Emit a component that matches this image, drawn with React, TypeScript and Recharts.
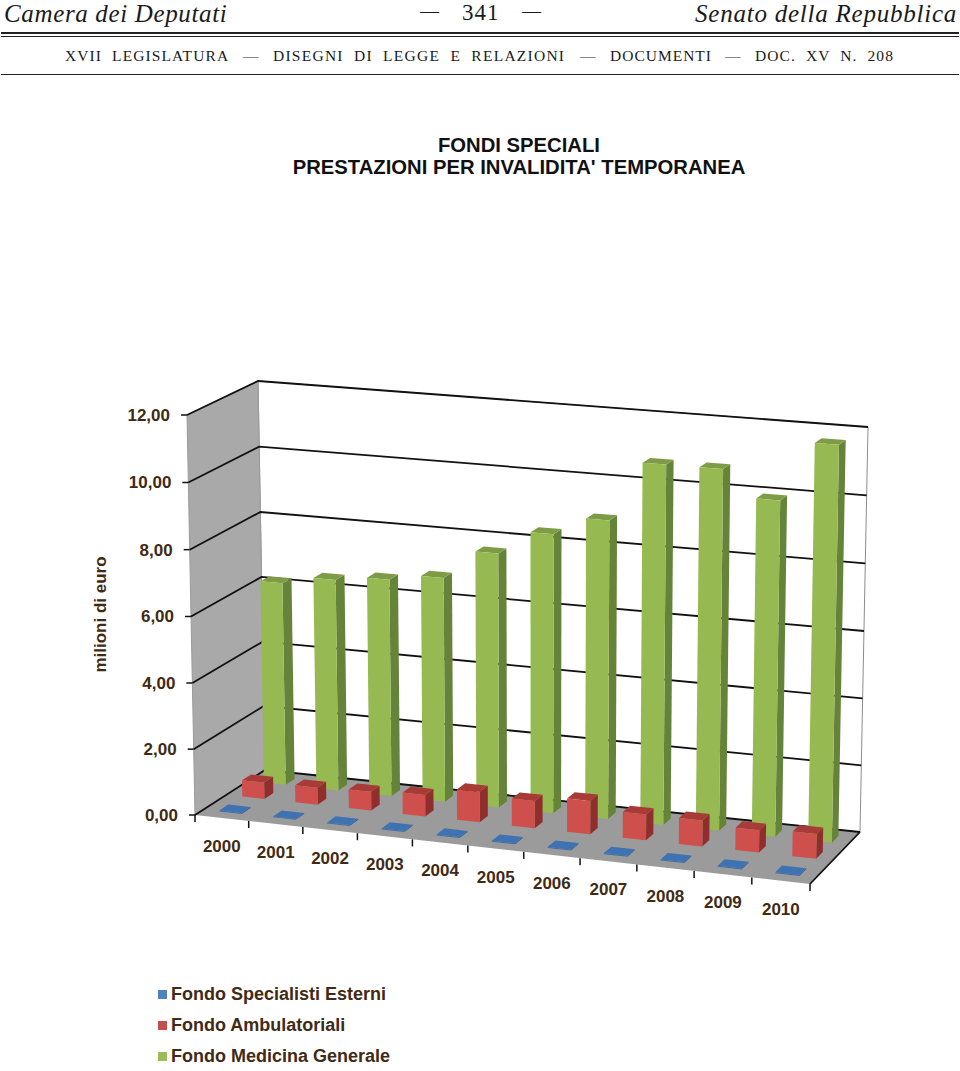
import React from "react";
import { BarChart, Bar, XAxis, YAxis, CartesianGrid, Legend } from "recharts";

const years = ["2000", "2001", "2002", "2003", "2004", "2005", "2006", "2007", "2008", "2009", "2010"];
const specialisti = [0.03, 0.03, 0.03, 0.03, 0.03, 0.03, 0.03, 0.03, 0.03, 0.03, 0.03];
const ambulatoriali = [0.5, 0.52, 0.57, 0.65, 0.92, 0.82, 1.0, 0.77, 0.77, 0.66, 0.73];
const medicina = [6.2, 6.45, 6.6, 6.8, 7.68, 8.4, 8.95, 10.73, 10.73, 9.95, 11.7];
const yTicks = [0, 2, 4, 6, 8, 10, 12];
const legendOrder = ["Fondo Specialisti Esterni", "Fondo Ambulatoriali", "Fondo Medicina Generale"];

const data = years.map((year, i) => ({
  year,
  specialisti: specialisti[i],
  ambulatoriali: ambulatoriali[i],
  medicina: medicina[i],
}));

// flat plot rectangle that recharts scales into
const PL = 200;
const PR = 860;
const PT = 400;
const PB = 800;

// screen corners of the 3d box: front/back, left/right, floor/top
const FL0 = [195, 815];
const FL1 = [187, 415];
const BL0 = [265, 770];
const BL1 = [258, 381];
const FR0 = [810, 884];
const FR1 = [817, 463];
const BR0 = [860, 832];
const BR1 = [868, 427];

const mix = (a: number[], b: number[], t: number) => [a[0] + (b[0] - a[0]) * t, a[1] + (b[1] - a[1]) * t];

function project(px: number, py: number, d: number) {
  const t = (px - PL) / (PR - PL);
  const s = t / (1.045 - 0.045 * t);
  const v = (PB - py) / (PB - PT);
  const h = v / (1.015 - 0.015 * v);
  const floor = mix(mix(FL0, FR0, s), mix(BL0, BR0, s), d);
  const top = mix(mix(FL1, FR1, s), mix(BL1, BR1, s), d);
  return mix(floor, top, h);
}

const pts = (list: number[][]) => list.map((p) => `${p[0].toFixed(1)},${p[1].toFixed(1)}`).join(" ");

function makeBarShape(d0: number, d1: number, front: string, side: string, top: string) {
  return function BarShape(props: any) {
    const { x, y, width, height } = props;
    const x1 = x + width;
    const y0 = y + height;
    return (
      <g>
        <polygon
          fill={side}
          points={pts([project(x1, y0, d0), project(x1, y0, d1), project(x1, y, d1), project(x1, y, d0)])}
        />
        <polygon
          fill={top}
          points={pts([project(x, y, d0), project(x1, y, d0), project(x1, y, d1), project(x, y, d1)])}
        />
        <polygon
          fill={front}
          points={pts([project(x, y0, d0), project(x1, y0, d0), project(x1, y, d0), project(x, y, d0)])}
        />
      </g>
    );
  };
}

function WallLine(props: any) {
  const { y1, index } = props;
  const frontLeft = project(PL, y1, 0);
  const backLeft = project(PL, y1, 1);
  const backRight = project(PR, y1, 1);
  return (
    <g>
      {index === 0 && (
        <g>
          <polygon fill="#ffffff" stroke="#8c8c8c" points={pts([BL0, BR0, BR1, BL1])} />
          <polygon fill="#a9a9a9" stroke="#9a9a9a" points={pts([FL0, BL0, BL1, FL1])} />
          <polygon fill="#9b9b9b" points={pts([FL0, FR0, BR0, BL0])} />
          <polyline fill="none" stroke="#111111" strokeWidth={1.8} points={pts([FR0, BR0])} />
        </g>
      )}
      <polyline fill="none" stroke="#111111" strokeWidth={1.8} points={pts([frontLeft, backLeft, backRight])} />
    </g>
  );
}

function YTick(props: any) {
  const { y, payload } = props;
  const p = project(PL, y, 0);
  return (
    <g>
      <line x1={p[0] - 6} y1={p[1]} x2={p[0]} y2={p[1]} stroke="#111111" strokeWidth={1.5} />
      <text
        x={p[0] - 17}
        y={p[1] + 6}
        textAnchor="end"
        fontFamily="Liberation Sans"
        fontWeight="bold"
        fontSize={17}
        fill="#3f2a14"
      >
        {payload.value.toFixed(2).replace(".", ",")}
      </text>
    </g>
  );
}

function XTick(props: any) {
  const { x, payload, index } = props;
  const band = (PR - PL) / years.length;
  const c = project(x, PB, 0);
  const a = project(x - band / 2, PB, 0);
  const b = project(x + band / 2, PB, 0);
  return (
    <g>
      <line x1={a[0]} y1={a[1]} x2={a[0]} y2={a[1] + 7} stroke="#111111" strokeWidth={1.5} />
      {index === years.length - 1 && (
        <line x1={b[0]} y1={b[1]} x2={b[0]} y2={b[1] + 7} stroke="#111111" strokeWidth={1.5} />
      )}
      <text
        x={c[0]}
        y={c[1] + 34}
        textAnchor="middle"
        fontFamily="Liberation Sans"
        fontWeight="bold"
        fontSize={17}
        fill="#3f2a14"
      >
        {payload.value}
      </text>
    </g>
  );
}

function LegendList(props: any) {
  const payload = props.payload || [];
  const items = legendOrder.map((name) => payload.find((item: any) => item.value === name)).filter(Boolean);
  return (
    <div>
      {items.map((item: any) => (
        <div key={item.value} style={{ height: 31, display: "flex", alignItems: "center" }}>
          <span style={{ width: 9, height: 9, background: item.color, marginRight: 4 }} />
          <span
            style={{
              fontFamily: "Liberation Sans",
              fontWeight: "bold",
              fontSize: 18,
              color: "#3f2a14",
              whiteSpace: "nowrap",
            }}
          >
            {item.value}
          </span>
        </div>
      ))}
    </div>
  );
}

const serif = "Liberation Serif";

function PageText(props: { x: number; y: number; size: number; children: any; italic?: boolean; spacing?: number }) {
  return (
    <div
      style={{
        position: "absolute",
        left: props.x,
        top: props.y,
        fontFamily: serif,
        fontSize: props.size,
        fontStyle: props.italic ? "italic" : "normal",
        letterSpacing: props.spacing || 0,
        lineHeight: 1,
        color: "#1a1a1a",
        whiteSpace: "pre",
      }}
    >
      {props.children}
    </div>
  );
}

function Rule(props: { y: number; h: number }) {
  return <div style={{ position: "absolute", left: 1, width: 958, top: props.y, height: props.h, background: "#222222" }} />;
}

function TitleLine(props: { y: number; children: any }) {
  return (
    <div
      style={{
        position: "absolute",
        left: 0,
        width: 1038,
        top: props.y,
        textAlign: "center",
        fontFamily: "Liberation Sans",
        fontWeight: "bold",
        fontSize: 20.25,
        lineHeight: 1,
        color: "#111111",
        whiteSpace: "pre",
      }}
    >
      {props.children}
    </div>
  );
}

export default function App() {
  return (
    <div style={{ position: "absolute", left: 0, top: 0, width: 960, height: 1071, background: "#ffffff", overflow: "hidden" }}>
      <PageText x={4} y={1} size={25} italic spacing={0.65}>Camera dei Deputati</PageText>
      <PageText x={420} y={1} size={19}>—</PageText>
      <PageText x={462} y={1} size={23} spacing={1}>341</PageText>
      <PageText x={522} y={1} size={19}>—</PageText>
      <PageText x={695} y={1} size={25} italic spacing={0.77}>Senato della Repubblica</PageText>
      <Rule y={32} h={2} />
      <Rule y={36} h={1} />
      <PageText x={65} y={48} size={15.5} spacing={1.1}>XVII  LEGISLATURA</PageText>
      <PageText x={243} y={48} size={15.5}>—</PageText>
      <PageText x={273} y={48} size={15.5} spacing={1.25}>DISEGNI  DI  LEGGE  E  RELAZIONI</PageText>
      <PageText x={580} y={48} size={15.5}>—</PageText>
      <PageText x={610} y={48} size={15.5} spacing={1}>DOCUMENTI</PageText>
      <PageText x={725} y={48} size={15.5}>—</PageText>
      <PageText x={755} y={48} size={15.5} spacing={1.1}>DOC.  XV  N.  208</PageText>
      <Rule y={74} h={1} />

      <TitleLine y={135}>FONDI SPECIALI</TitleLine>
      <TitleLine y={157}>PRESTAZIONI PER INVALIDITA' TEMPORANEA</TitleLine>

      <div
        style={{
          position: "absolute",
          left: 40,
          top: 606,
          width: 120,
          textAlign: "center",
          transform: "rotate(-90deg)",
          fontFamily: "Liberation Sans",
          fontWeight: "bold",
          fontSize: 17,
          lineHeight: 1,
          color: "#3f2a14",
          whiteSpace: "nowrap",
        }}
      >
        milioni di euro
      </div>

      <div style={{ position: "absolute", left: 0, top: 0 }}>
        <BarChart
          width={960}
          height={1071}
          data={data}
          barSize={25}
          barGap={-25}
          margin={{ left: 150, right: 100, top: PT, bottom: 241 }}
        >
          <CartesianGrid vertical={false} horizontal={(p: any) => <WallLine key={p.key} {...p} />} />
          <XAxis
            dataKey="year"
            height={30}
            axisLine={false}
            tickLine={false}
            interval={0}
            tick={(p: any) => <XTick {...p} />}
          />
          <YAxis
            width={50}
            domain={[0, 12]}
            ticks={yTicks}
            axisLine={false}
            tickLine={false}
            tick={(p: any) => <YTick {...p} />}
          />
          <Legend
            layout="vertical"
            align="center"
            verticalAlign="middle"
            wrapperStyle={{ position: "absolute", left: 158, top: 979, width: 300 }}
            content={(p: any) => <LegendList {...p} />}
          />
          <Bar
            dataKey="medicina"
            name="Fondo Medicina Generale"
            fill="#9bbb59"
            isAnimationActive={false}
            shape={makeBarShape(0.76, 0.89, "#96b952", "#66833a", "#7d9c45")}
          />
          <Bar
            dataKey="ambulatoriali"
            name="Fondo Ambulatoriali"
            fill="#c0504d"
            isAnimationActive={false}
            shape={makeBarShape(0.45, 0.58, "#cf4f4c", "#8f2f2d", "#a83a38")}
          />
          <Bar
            dataKey="specialisti"
            name="Fondo Specialisti Esterni"
            fill="#4f81bd"
            isAnimationActive={false}
            shape={makeBarShape(0.12, 0.25, "#3e6fa8", "#2f5a8c", "#3f72b0")}
          />
        </BarChart>
      </div>
    </div>
  );
}
